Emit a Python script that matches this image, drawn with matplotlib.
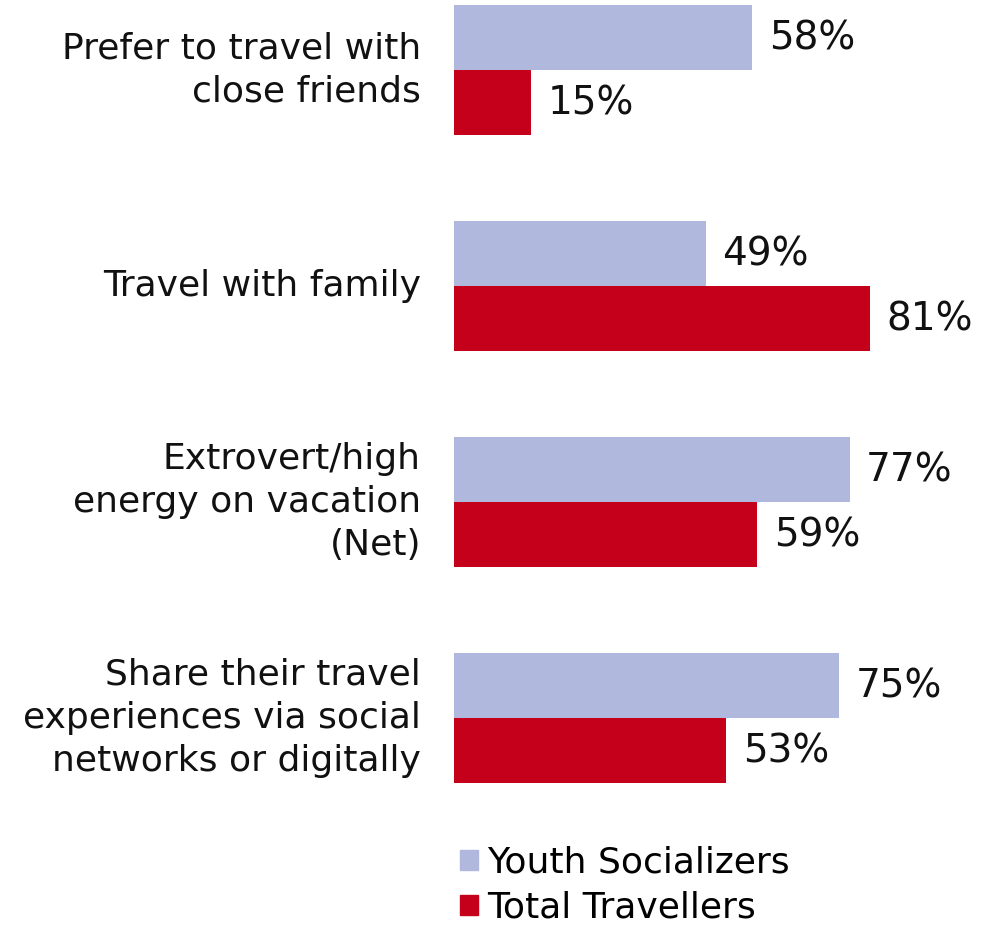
import numpy as np
import matplotlib
matplotlib.use("Agg")
import matplotlib.pyplot as plt
from matplotlib.patches import Patch

categories = [
    "Prefer to travel with\nclose friends",
    "Travel with family",
    "Extrovert/high\nenergy on vacation\n(Net)",
    "Share their travel\nexperiences via social\nnetworks or digitally",
]
youth = [58, 49, 77, 75]
total = [15, 81, 59, 53]
series_names = ["Youth Socializers", "Total Travellers"]

blue = "#b0b8dd"
red = "#c4001a"

plt.rcParams["font.family"] = "DejaVu Sans"

fig = plt.figure(figsize=(10, 9.25), dpi=100)
ax = fig.add_axes([0.454, 0.0, 0.546, 1.0])

pos = np.arange(len(categories))
h = 0.301
ax.barh(pos - h / 2, youth, height=h, color=blue)
ax.barh(pos + h / 2, total, height=h, color=red)

ax.set_xlim(0, 106.3)
ax.set_ylim(3.958, -0.324)
ax.axis("off")

fs = 26
vfs = 28
for i, (y, t) in enumerate(zip(youth, total)):
    ax.annotate(f"{y}%", xy=(y, i - h / 2), xytext=(12, -1), textcoords="offset points",
                ha="left", va="center", fontsize=vfs, color="#111111")
    ax.annotate(f"{t}%", xy=(t, i + h / 2), xytext=(12, -1), textcoords="offset points",
                ha="left", va="center", fontsize=vfs, color="#111111")
    ax.annotate(categories[i], xy=(0, i), xytext=(-23.8, 0), textcoords="offset points",
                ha="right", va="center", multialignment="right", fontsize=fs,
                color="#111111", linespacing=1.34, annotation_clip=False)

handles = [Patch(color=blue), Patch(color=red)]
fig.legend(handles, series_names, loc="upper left", bbox_to_anchor=(0.46, 0.0855),
           frameon=False, fontsize=fs, handlelength=0.5, handleheight=0.5,
           handletextpad=0.25, labelspacing=0.3, borderpad=0, borderaxespad=0)

fig.savefig("out.png", dpi=100)
